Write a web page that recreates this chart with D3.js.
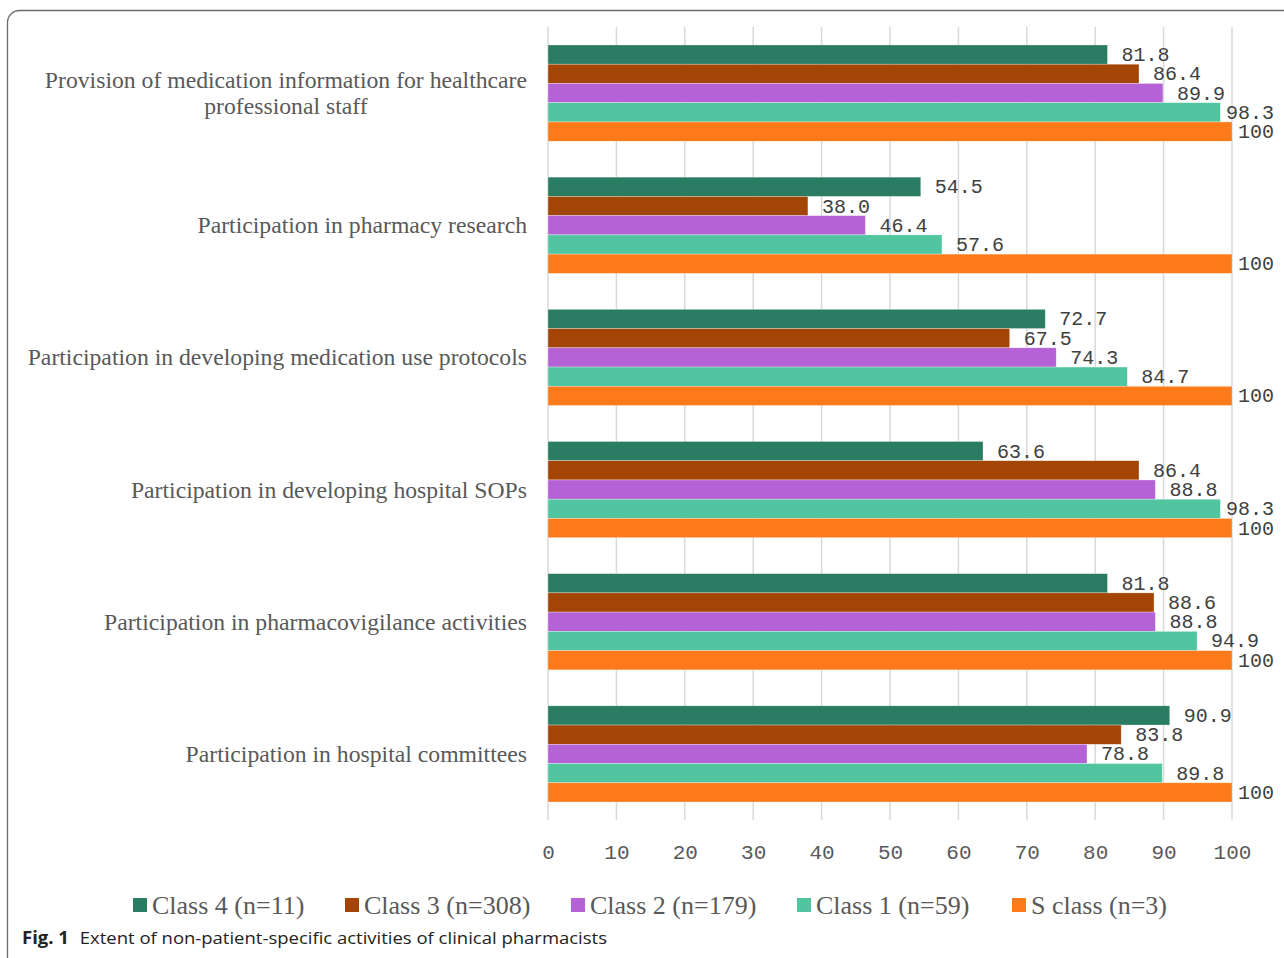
<!DOCTYPE html>
<html>
<head>
<meta charset="utf-8">
<script src="https://cdn.jsdelivr.net/npm/d3@7"></script>
<style>
  body { margin: 0; background: #fff; }
  svg { display: block; }
</style>
</head>
<body>
<svg id="chart" width="1284" height="958"></svg>
<script>
// activities, top to bottom
const categories = [
  ["Provision of medication information for healthcare", "professional staff"],
  ["Participation in pharmacy research"],
  ["Participation in developing medication use protocols"],
  ["Participation in developing hospital SOPs"],
  ["Participation in pharmacovigilance activities"],
  ["Participation in hospital committees"]
];
const seriesNames = ["Class 4 (n=11)", "Class 3 (n=308)", "Class 2 (n=179)", "Class 1 (n=59)", "S class (n=3)"];
const class4 = [81.8, 54.5, 72.7, 63.6, 81.8, 90.9];
const class3 = [86.4, 38.0, 67.5, 86.4, 88.6, 83.8];
const class2 = [89.9, 46.4, 74.3, 88.8, 88.8, 78.8];
const class1 = [98.3, 57.6, 84.7, 98.3, 94.9, 89.8];
const sClass = [100, 100, 100, 100, 100, 100];
const xTicks = [0, 10, 20, 30, 40, 50, 60, 70, 80, 90, 100];
const colors = ["#2a7d63", "#a34504", "#b462d5", "#51c59f", "#fc7a19"];

const series = [class4, class3, class2, class1, sClass];

var svg = d3.select("#chart");

// frame round the figure
svg.append("rect")
    .attr("x", 7.5).attr("y", 10.5)
    .attr("width", 1300).attr("height", 980)
    .attr("rx", 12)
    .attr("fill", "none")
    .attr("stroke", "#6b6b6b")
    .attr("stroke-width", 1.3);

var plotTop = 27, plotBottom = 820;
var x = d3.scaleLinear().domain([0, 100]).range([548, 1232]);
var y0 = d3.scaleBand()
    .domain(d3.range(categories.length))
    .range([plotTop, plotBottom])
    .paddingInner(0.272)
    .paddingOuter(0.136);
var y1 = d3.scaleBand()
    .domain(d3.range(series.length))
    .range([0, y0.bandwidth()]);

// gridlines
svg.append("g")
    .selectAll("line")
    .data(xTicks)
    .enter()
    .append("line")
    .attr("x1", d => x(d)).attr("x2", d => x(d))
    .attr("y1", plotTop).attr("y2", plotBottom)
    .attr("stroke", "#d9d9d9")
    .attr("stroke-width", 1.5);

// tick labels
var xAxis = svg.append("g")
    .attr("transform", "translate(0," + 852 + ")")
    .call(d3.axisBottom(x).tickValues(xTicks).tickSize(0).tickPadding(0));
xAxis.select(".domain").remove();
xAxis.selectAll("text")
    .attr("dy", "0.35em")
    .attr("font-family", "Liberation Mono, monospace")
    .attr("font-size", "21px")
    .attr("fill", "#595959");

// bars
var groups = svg.append("g")
    .selectAll("g")
    .data(categories)
    .enter()
    .append("g")
    .attr("transform", (d, i) => "translate(0," + y0(i) + ")");

groups.each(function(cat, gi) {
  var g = d3.select(this);
  series.forEach(function(vals, si) {
    g.append("rect")
        .attr("x", x(0))
        .attr("y", y1(si))
        .attr("width", x(vals[gi]) - x(0))
        .attr("height", y1.bandwidth())
        .attr("fill", colors[si])
        .attr("stroke", "#ffffff")
        .attr("stroke-opacity", 0.5)
        .attr("stroke-width", 0.6);
  });
  series.forEach(function(vals, si) {
    var v = vals[gi];
    var t = g.append("text")
        .attr("y", y1(si) + y1.bandwidth() / 2 + 1)
        .attr("dominant-baseline", "central")
        .attr("font-family", "Liberation Mono, monospace")
        .attr("font-size", "20px")
        .attr("fill", "#404040")
        .text(v === 100 ? "100" : v.toFixed(1));
    var w = t.node().getComputedTextLength();
    t.attr("x", Math.min(x(v) + 14, 1274 - w));
  });

  // category label
  var lab = g.append("text")
      .attr("font-family", "Liberation Serif, serif")
      .attr("font-size", "23.7px")
      .attr("fill", "#595959");
  var lh = 26;
  var top = y0.bandwidth() / 2 - (cat.length - 1) * lh / 2;
  cat.forEach(function(line, li) {
    lab.append("tspan")
        .attr("y", top + li * lh)
        .attr("dominant-baseline", "central")
        .text(line);
  });
  var maxW = 0;
  lab.selectAll("tspan").each(function() {
    maxW = Math.max(maxW, this.getComputedTextLength());
  });
  lab.selectAll("tspan")
      .attr("x", 527 - maxW / 2)
      .attr("text-anchor", "middle");
});

// legend
var legendX = [133, 345, 571, 797, 1012];
var legend = svg.append("g")
    .selectAll("g")
    .data(seriesNames)
    .enter()
    .append("g")
    .attr("transform", (d, i) => "translate(" + legendX[i] + "," + 905 + ")");
legend.append("rect")
    .attr("x", 0).attr("y", -7)
    .attr("width", 14).attr("height", 14)
    .attr("fill", (d, i) => colors[i]);
legend.append("text")
    .attr("x", 19)
    .attr("dominant-baseline", "central")
    .attr("font-family", "Liberation Serif, serif")
    .attr("font-size", "26px")
    .attr("fill", "#595959")
    .text(d => d);

// caption
var cap = svg.append("text")
    .attr("x", 22).attr("y", 944)
    .attr("font-family", "Open Sans, sans-serif")
    .attr("font-size", "17px")
    .attr("fill", "#222");
cap.append("tspan").attr("font-weight", "bold").text("Fig. 1");
cap.append("tspan").attr("dx", 10).text("Extent of non-patient-specific activities of clinical pharmacists");
cap.attr("textLength", 585).attr("lengthAdjust", "spacingAndGlyphs");
</script>
</body>
</html>
